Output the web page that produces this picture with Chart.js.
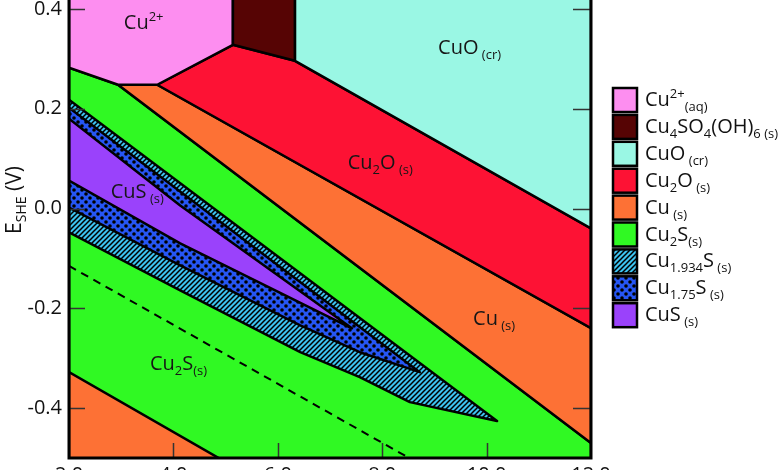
<!DOCTYPE html>
<html><head><meta charset="utf-8">
<script src="https://cdn.jsdelivr.net/npm/chart.js@4.4.0/dist/chart.umd.min.js"></script>
<style>
html,body{margin:0;padding:0;background:#fff;overflow:hidden;width:780px;height:470px}
#wrap{position:absolute;left:0;top:-60px;width:780px;height:560px}
</style>
</head><body>
<div id="wrap"><canvas id="c" width="780" height="560"></canvas></div>
<script>
// ---- axis ticks ----
const xTicks = [2, 4, 6, 8, 10, 12];
const yTicks = [-0.4, -0.2, 0, 0.2, 0.4];

// ---- region boundaries (pH, E/V) ----
const cu2sPH   = [2, 2.94, 12, 12, 2];
const cu2sE    = [0.282, 0.248, -0.47, -0.56, -0.56];
const cuLowPH  = [2, 4.95, 2];
const cuLowE   = [-0.328, -0.505, -0.505];
const cuUpPH   = [2.94, 3.69, 12, 12];
const cuUpE    = [0.248, 0.248, -0.24, -0.47];
const cu2oPH   = [3.69, 5.14, 6.33, 12, 12];
const cu2oE    = [0.248, 0.328, 0.296, -0.04, -0.24];
const cu2pPH   = [2, 2, 2.94, 3.69, 5.14, 5.14];
const cu2pE    = [0.56, 0.282, 0.248, 0.248, 0.328, 0.56];
const sulfPH   = [5.14, 5.14, 6.33, 6.33];
const sulfE    = [0.56, 0.328, 0.296, 0.56];
const cuoPH    = [6.33, 6.33, 12, 12];
const cuoE     = [0.56, 0.296, -0.04, 0.56];
const cu1934PH = [2, 10.2, 8.53, 7.57, 6.43, 4.13, 2];
const cu1934E  = [0.218, -0.426, -0.388, -0.338, -0.288, -0.164, -0.048];
const cu175PH  = [2, 8.72, 7.57, 6.43, 4.13, 2];
const cu175E   = [0.202, -0.328, -0.288, -0.234, -0.114, 0.002];
const cusPH    = [2, 4.13, 7.42, 4.13, 2];
const cusE     = [0.18, 0.006, -0.24, -0.07, 0.056];
const h2PH     = [2, 8.6];
const h2E      = [-0.115, -0.505];

// ---- labels ----
const legendLabels = ['Cu^{2+}_{(aq)}', 'Cu_{4}SO_{4}(OH)_{6 (s)}', 'CuO_{ (cr)}', 'Cu_{2}O_{ (s)}',
  'Cu_{ (s)}', 'Cu_{2}S_{(s)}', 'Cu_{1.934}S_{ (s)}', 'Cu_{1.75}S_{ (s)}', 'CuS_{ (s)}'];
const regionTexts = ['Cu^{2+}', 'CuO_{ (cr)}', 'Cu_{2}O_{ (s)}', 'CuS_{ (s)}', 'Cu_{ (s)}', 'Cu_{2}S_{(s)}'];
const regionPH = [3.05, 9.07, 7.34, 2.80, 9.74, 3.55];
const regionE  = [0.36, 0.31, 0.08, 0.022, -0.234, -0.324];

// ---- styling ----
const OFF = 60;
const FONT = '"Open Sans", "DejaVu Sans", sans-serif';
const C = {pink:'#fd8ef0', brown:'#560404', cyan:'#9af7e4', red:'#fd1234', orange:'#fd7135',
  green:'#30f923', hatchBg:'#3dc3f0', dotBg:'#2656f4', purple:'#9a42fb'};

function makeHatch(){
  const s = 5, cv = document.createElement('canvas'); cv.width = s; cv.height = s;
  const g = cv.getContext('2d');
  g.fillStyle = C.hatchBg; g.fillRect(0,0,s,s);
  g.strokeStyle = '#000'; g.lineWidth = 1.5;
  g.beginPath();
  g.moveTo(-1, s+1); g.lineTo(s+1, -1);
  g.moveTo(-1, 1); g.lineTo(1, -1);
  g.moveTo(s-1, s+1); g.lineTo(s+1, s-1);
  g.stroke();
  return g.createPattern(cv, 'repeat');
}
function makeDots(){
  const s = 8, cv = document.createElement('canvas'); cv.width = s; cv.height = s;
  const g = cv.getContext('2d');
  g.fillStyle = C.dotBg; g.fillRect(0,0,s,s);
  g.fillStyle = '#000';
  [[2,2],[6,6]].forEach(([x,y])=>{ g.beginPath(); g.arc(x,y,1.8,0,Math.PI*2); g.fill(); });
  return g.createPattern(cv, 'repeat');
}

function pts(px, ey, close){
  const a = px.map((v,i)=>({x:v, y:ey[i]}));
  if (close) a.push({x:px[0], y:ey[0]});
  return a;
}

function parseRich(s){
  const out = []; const re = /([_^])\{([^}]*)\}|([^_^]+)/g; let m;
  while ((m = re.exec(s))) {
    if (m[3]) out.push({t:m[3], k:0}); else out.push({t:m[2], k: m[1]==='_' ? 1 : -1});
  }
  return out;
}
function richWidth(ctx, s, size, sub){
  let w = 0;
  parseRich(s).forEach(p=>{ ctx.font = (p.k ? sub : size) + 'px ' + FONT; w += ctx.measureText(p.t).width; });
  return w;
}
function drawRich(ctx, s, x, y, size, sub){
  let cx = x;
  ctx.textAlign = 'left'; ctx.textBaseline = 'alphabetic';
  parseRich(s).forEach(p=>{
    ctx.font = (p.k ? sub : size) + 'px ' + FONT;
    const dy = p.k === 1 ? 5 : (p.k === -1 ? -8 : 0);
    ctx.fillText(p.t, cx, y + dy);
    cx += ctx.measureText(p.t).width;
  });
}

function build(){
  const hatch = makeHatch(), dots = makeDots();
  const legendFills = [C.pink, C.brown, C.cyan, C.red, C.orange, C.green, hatch, dots, C.purple];

  const poly = (label, px, ey, fillc, order) => ({
    label, data: pts(px, ey, true), showLine: true, fill: 'shape',
    backgroundColor: fillc, borderColor: '#000', borderWidth: 2.5,
    borderJoinStyle: 'round', pointRadius: 0, pointHoverRadius: 0, tension: 0, order
  });

  const datasets = [
    poly('Cu2S', cu2sPH, cu2sE, C.green, 20),
    poly('Cu low', cuLowPH, cuLowE, C.orange, 19),
    poly('Cu up', cuUpPH, cuUpE, C.orange, 18),
    poly('Cu2O', cu2oPH, cu2oE, C.red, 17),
    poly('Cu2+', cu2pPH, cu2pE, C.pink, 16),
    poly('Cu4SO4(OH)6', sulfPH, sulfE, C.brown, 15),
    poly('CuO', cuoPH, cuoE, C.cyan, 14),
    poly('Cu1.934S', cu1934PH, cu1934E, hatch, 13),
    poly('Cu1.75S', cu175PH, cu175E, dots, 12),
    poly('CuS', cusPH, cusE, C.purple, 11),
    {label:'H2', data: pts(h2PH, h2E, false), showLine:true, fill:false, borderColor:'#000',
     borderWidth:2, borderDash:[8,6], pointRadius:0, order:10}
  ];

  const decor = {
    id: 'decor',
    afterDatasetsDraw(chart){
      const ctx = chart.ctx, a = chart.chartArea, xs = chart.scales.x, ys = chart.scales.y;
      ctx.save();
      ctx.fillStyle = '#161616';
      regionTexts.forEach((t,i)=>{
        drawRich(ctx, t, xs.getPixelForValue(regionPH[i]), ys.getPixelForValue(regionE[i]), 20, 13);
      });
      ctx.strokeStyle = '#333'; ctx.lineWidth = 1.5;
      ctx.beginPath();
      yTicks.forEach(v=>{
        const y = Math.round(ys.getPixelForValue(v)) + 0.5;
        ctx.moveTo(a.left, y); ctx.lineTo(a.left + 16, y);
        ctx.moveTo(a.right - 18, y); ctx.lineTo(a.right, y);
      });
      xTicks.slice(1, -1).forEach(v=>{
        const x = Math.round(xs.getPixelForValue(v)) + 0.5;
        ctx.moveTo(x, a.bottom); ctx.lineTo(x, a.bottom - 15);
      });
      ctx.stroke();
      ctx.strokeStyle = '#000'; ctx.lineWidth = 3;
      ctx.strokeRect(a.left, a.top, a.right - a.left, a.bottom - a.top);
      ctx.restore();
    },
    afterDraw(chart){
      const ctx = chart.ctx;
      ctx.save();
      legendLabels.forEach((t,i)=>{
        const top = OFF + 88 + 26.9*i;
        ctx.fillStyle = legendFills[i];
        ctx.fillRect(613, top, 24, 24);
        ctx.strokeStyle = '#000'; ctx.lineWidth = 2.5;
        ctx.strokeRect(613, top, 24, 24);
        ctx.fillStyle = '#111';
        drawRich(ctx, t, 645, top + 18, 20, 13);
      });
      const title = 'E_{SHE} (V)';
      ctx.translate(21, OFF + 200);
      ctx.rotate(-Math.PI/2);
      ctx.fillStyle = '#111';
      const w = richWidth(ctx, title, 21, 14);
      drawRich(ctx, title, -w/2, 0, 21, 14);
      ctx.restore();
    }
  };

  new Chart(document.getElementById('c'), {
    type: 'scatter',
    data: { datasets },
    options: {
      responsive: false, animation: false, devicePixelRatio: 1,
      layout: { padding: { top: 18, left: 0, right: 189, bottom: 12 } },
      plugins: { legend: { display: false }, tooltip: { enabled: false } },
      scales: {
        x: {
          type: 'linear', min: 2, max: 12,
          afterBuildTicks: s => { s.ticks = xTicks.map(v=>({value:v})); },
          afterFit: s => { s.height = 30; },
          grid: { display: false, drawTicks: false },
          border: { display: false },
          ticks: { padding: 5, color: '#111', font: { family: FONT, size: 20 }, maxRotation: 0,
                   callback: v => Number(v).toFixed(1) }
        },
        y: {
          type: 'linear', min: -0.5, max: 0.5,
          afterBuildTicks: s => { s.ticks = yTicks.map(v=>({value:v})); },
          afterFit: s => { s.width = 69; },
          grid: { display: false, drawTicks: false },
          border: { display: false },
          ticks: { padding: 7, color: '#111', font: { family: FONT, size: 20 },
                   callback: v => Number(v).toFixed(1) }
        }
      }
    },
    plugins: [decor]
  });
}

if (document.fonts && document.fonts.load) {
  Promise.all([document.fonts.load('20px "Open Sans"'), document.fonts.load('13px "Open Sans"')])
    .then(build, build);
} else build();
</script>
</body></html>
